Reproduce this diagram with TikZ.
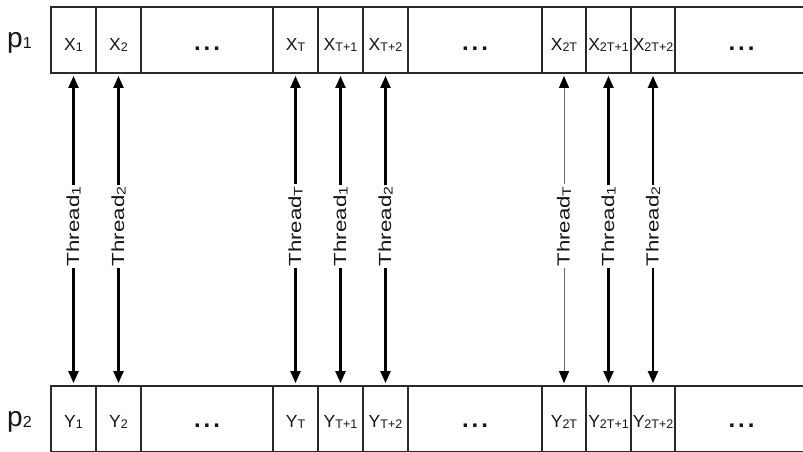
\documentclass[tikz,border=0pt]{standalone}
\usepackage{fontspec}
\setmainfont{Liberation Sans}
\usetikzlibrary{arrows.meta}
\newcommand{\mysub}[1]{\raisebox{-1.5pt}{\fontsize{12.5}{12}\selectfont #1}}
\newcommand{\mysubp}[1]{\raisebox{-1pt}{\fontsize{16}{16}\selectfont #1}}
\definecolor{linec}{HTML}{2A2A2A}
\definecolor{txtc}{HTML}{151515}
\tikzset{
  cell/.style={draw=linec, line width=1.8pt, inner sep=0pt, minimum height=66pt,
    minimum width=45pt, text=txtc, font=\fontsize{17.5}{19}\selectfont, text depth=0pt},
  topcell/.style={cell, text height=20pt},
  botcell/.style={cell, text height=16pt},
  wide/.style={minimum width=#1},
  thr/.style={draw=black, line width=2.2pt, shorten <=2pt, shorten >=2pt,
    {Triangle[width=10pt,length=12pt,color=black]}-{Triangle[width=10pt,length=12pt,color=black]}},
  thrthin/.style={thr, draw=black!60, line width=1pt},
  thrlab/.style={rotate=90, fill=white, inner sep=2pt, text=txtc, pos=0.49,
    font=\fontsize{17.5}{17}\selectfont},
  plab/.style={anchor=base west, text=txtc, font=\fontsize{28}{28}\selectfont, inner sep=0pt}
}
\newcommand{\thrtxt}[1]{\scalebox{1.27}[1]{Thread\mysub{#1}}}
\newcommand{\mydots}{{\fontsize{24}{24}\bfseries\selectfont .\kern3pt.\kern3pt.}}
\begin{document}
\begin{tikzpicture}[x=1pt,y=-1pt]
\useasboundingbox (0,0) rectangle (803,451);
\clip (0,0) rectangle (803,451);
% top row
\node[topcell] (x1) at (73.5,40) {X\mysub{1}};
\node[topcell] (x2) at (118.5,40) {X\mysub{2}};
\node[topcell, wide=132pt] (xd1) at (207,40) {\mydots};
\node[topcell] (xT) at (295.5,40) {X\mysub{T}};
\node[topcell] (xT1) at (340.5,40) {X\mysub{T+1}};
\node[topcell] (xT2) at (385.5,40) {X\mysub{T+2}};
\node[topcell, wide=134pt] (xd2) at (475,40) {\mydots};
\node[topcell, wide=44pt] (x2T) at (564,40) {X\mysub{2T}};
\node[topcell, wide=45pt] (x2T1) at (608.5,40) {X\mysub{2T+1}};
\node[topcell, wide=44pt] (x2T2) at (653,40) {X\mysub{2T+2}};
\node[topcell, wide=133pt] (xd3) at (741.5,40) {\mydots};
% bottom row
\node[botcell] (y1) at (73.5,419) {Y\mysub{1}};
\node[botcell] (y2) at (118.5,419) {Y\mysub{2}};
\node[botcell, wide=132pt] (yd1) at (207,419) {\mydots};
\node[botcell] (yT) at (295.5,419) {Y\mysub{T}};
\node[botcell] (yT1) at (340.5,419) {Y\mysub{T+1}};
\node[botcell] (yT2) at (385.5,419) {Y\mysub{T+2}};
\node[botcell, wide=134pt] (yd2) at (475,419) {\mydots};
\node[botcell, wide=44pt] (y2T) at (564,419) {Y\mysub{2T}};
\node[botcell, wide=45pt] (y2T1) at (608.5,419) {Y\mysub{2T+1}};
\node[botcell, wide=44pt] (y2T2) at (653,419) {Y\mysub{2T+2}};
\node[botcell, wide=133pt] (yd3) at (741.5,419) {\mydots};
% row labels
\node[plab] (p1) at (7,47) {p\mysubp{1}};
\node[plab] (p2) at (7,426) {p\mysubp{2}};
% threads
\draw[thr] (x1.south) -- node[thrlab] {\thrtxt{1}} (y1.north);
\draw[thr] (x2.south) -- node[thrlab] {\thrtxt{2}} (y2.north);
\draw[thr] (xT.south) -- node[thrlab] {\thrtxt{T}} (yT.north);
\draw[thr] (xT1.south) -- node[thrlab] {\thrtxt{1}} (yT1.north);
\draw[thr] (xT2.south) -- node[thrlab] {\thrtxt{2}} (yT2.north);
\draw[thrthin] (x2T.south) -- node[thrlab] {\thrtxt{T}} (y2T.north);
\draw[thr] (x2T1.south) -- node[thrlab] {\thrtxt{1}} (y2T1.north);
\draw[thr] (x2T2.south) -- node[thrlab] {\thrtxt{2}} (y2T2.north);
\end{tikzpicture}
\end{document}
